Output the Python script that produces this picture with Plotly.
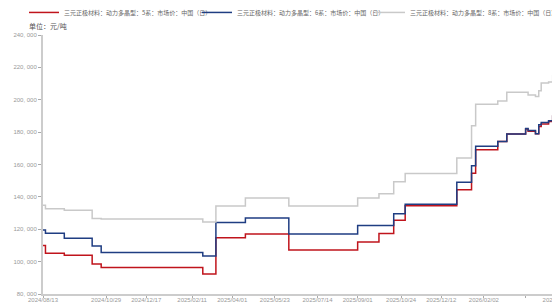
import plotly.graph_objects as go

dates = [
    "2024-08-13", "2024-08-16", "2024-09-08", "2024-10-12", "2024-10-23",
    "2025-02-24", "2025-03-12", "2025-04-17", "2025-06-09", "2025-09-01",
    "2025-09-27", "2025-10-15", "2025-10-29", "2025-12-31", "2026-01-18",
    "2026-01-23", "2026-02-19", "2026-03-02", "2026-03-25", "2026-03-28",
    "2026-04-06", "2026-04-10", "2026-04-13", "2026-04-22", "2026-04-27",
    "2026-05-03",
]
series_5 = [
    110000, 105200, 104000, 98600, 96300,
    92300, 114700, 117000, 107200, 112100,
    117300, 125500, 134500, 144400, 154600,
    169100, 174200, 178800, 182000, 180500,
    179000, 183500, 185000, 186500, 190000,
    194000,
]
series_6 = [
    119500, 117500, 114500, 109600, 105600,
    103500, 124200, 127000, 117000, 122300,
    122300, 129500, 135500, 149100, 159300,
    171200, 174200, 178800, 182200, 181000,
    179000, 184500, 185900, 187000, 190000,
    195000,
]
series_8 = [
    134800, 132700, 131800, 126600, 126400,
    124500, 134400, 139300, 134400, 139300,
    142000, 149300, 154400, 164000, 184000,
    197200, 199200, 204700, 204700, 203000,
    202000, 205500, 210400, 211000, 215000,
    221000,
]
names = [
    "三元正极材料：动力多晶型：5系：市场价：中国（日）",
    "三元正极材料：动力多晶型：6系：市场价：中国（日）",
    "三元正极材料：动力多晶型：8系：市场价：中国（日）",
]
colors = ["#c0141c", "#1f3d82", "#c9c9c9"]

y_tickvals = [80000, 100000, 120000, 140000, 160000, 180000, 200000, 220000, 240000]
y_ticktext = ["80, 000", "100, 000", "120, 000", "140, 000", "160, 000",
              "180, 000", "200, 000", "220, 000", "240, 000"]
x_tickvals = ["2024-08-13", "2024-10-29", "2024-12-17", "2025-02-11", "2025-04-01",
              "2025-05-23", "2025-07-14", "2025-09-01", "2025-10-24", "2025-12-12",
              "2026-02-02", "2026-03-25", "2026-05-03"]
x_ticktext = ["2024/08/13", "2024/10/29", "2024/12/17", "2025/02/11", "2025/04/01",
              "2025/05/23", "2025/07/14", "2025/09/01", "2025/10/24", "2025/12/12",
              "2026/02/02", "", "2026/05/03"]

legend_ids = ["legend", "legend2", "legend3"]

fig = go.Figure()
for name, vals, col, lid in zip(names, [series_5, series_6, series_8], colors, legend_ids):
    fig.add_trace(go.Scatter(x=dates, y=vals, name=name, mode="lines", legend=lid,
                             line=dict(color=col, width=1.5, shape="hv")))

font_cjk = "Noto Sans CJK SC"
W, H = 552, 296


def legend_style(xpos):
    return dict(orientation="h", xref="container", yref="container",
                x=xpos, xanchor="left", y=0.985, yanchor="middle",
                font=dict(size=6, color="#666666", family=font_cjk),
                itemwidth=30, bgcolor="rgba(0,0,0,0)", borderwidth=0)


fig.update_layout(
    width=W, height=H,
    margin=dict(l=35, r=2, t=27, b=10, autoexpand=False),
    paper_bgcolor="white", plot_bgcolor="white",
    font=dict(family=font_cjk, size=6, color="#888888"),
    showlegend=True,
    legend=legend_style(16 / W),
    legend2=legend_style(189 / W),
    legend3=legend_style(362 / W),
    xaxis=dict(type="date", range=["2024-08-13", "2026-05-03 12:00"],
               tickmode="array", tickvals=x_tickvals, ticktext=x_ticktext,
               tickangle=0, ticklabelstandoff=-3, ticklabeloverflow="allow",
               showgrid=False, zeroline=False,
               showline=True, linecolor="#cccccc", linewidth=2,
               ticks="outside", ticklen=2, tickcolor="#aaaaaa",
               tickfont=dict(size=6, color="#999999", family="Liberation Sans")),
    yaxis=dict(range=[80000, 240000], tickmode="array",
               tickvals=y_tickvals, ticktext=y_ticktext,
               showgrid=False, zeroline=False,
               showline=True, linecolor="#cccccc", linewidth=2, mirror=True,
               ticks="outside", ticklen=3, tickcolor="#aaaaaa",
               tickfont=dict(size=6, color="#999999", family="Liberation Sans")),
    annotations=[dict(text="单位：元/吨", xref="paper", yref="paper",
                      x=-0.031, y=1.036, xanchor="left", yanchor="middle",
                      showarrow=False, font=dict(size=7, color="#555555", family=font_cjk))],
)

fig.write_html("out.html")
